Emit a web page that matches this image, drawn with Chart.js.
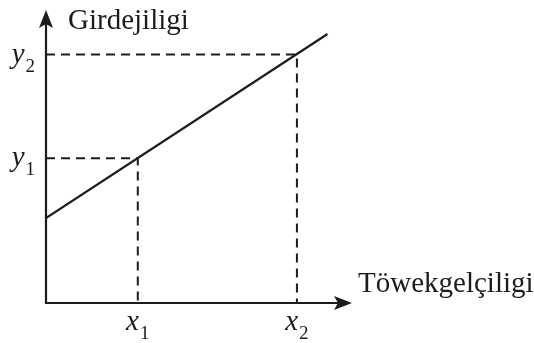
<!DOCTYPE html>
<html>
<head>
<meta charset="utf-8">
<script src="https://cdn.jsdelivr.net/npm/chart.js@4"></script>
<style>
  body { margin: 0; background: #fff; }
  #wrap { width: 534px; height: 343px; }
</style>
</head>
<body>
<div id="wrap"><canvas id="sketch"></canvas></div>
<script>
// straight line (start and end), in axis units 0..100
const lineX = [0, 92];
const lineY = [29, 91.8];

// the two marked points on the line
const guideX = [30, 82];
const guideY = [49.4, 84.8];

// tick labels: letter + subscript
const xTickText = ['x', 'x'];
const xTickSub = ['1', '2'];
const yTickText = ['y', 'y'];
const yTickSub = ['1', '2'];

const xTitle = 'Töwekgelçiligi';
const yTitle = 'Girdejiligi';

document.addEventListener('DOMContentLoaded', function () {
    const ink = '#1c1c1c';
    const serif = '"Liberation Serif", "Times New Roman", serif';

    function arrow(ctx, tx, ty, dx, dy) {
        // notched arrow head pointing along (dx, dy)
        const len = 18, half = 7, notch = 4;
        const px = -dy, py = dx;
        ctx.beginPath();
        ctx.moveTo(tx, ty);
        ctx.lineTo(tx - dx * len + px * half, ty - dy * len + py * half);
        ctx.lineTo(tx - dx * (len - notch), ty - dy * (len - notch));
        ctx.lineTo(tx - dx * len - px * half, ty - dy * len - py * half);
        ctx.closePath();
        ctx.fill();
    }

    function subLabel(ctx, letter, sub, x, y, align) {
        ctx.font = 'italic 29px ' + serif;
        const w1 = ctx.measureText(letter).width;
        ctx.font = '19px ' + serif;
        const w2 = ctx.measureText(sub).width;
        const total = w1 + w2 + 1;
        let left = x;
        if (align === 'center') left = x - total / 2;
        if (align === 'right') left = x - total;
        ctx.textAlign = 'left';
        ctx.textBaseline = 'alphabetic';
        ctx.font = 'italic 29px ' + serif;
        ctx.fillText(letter, left, y);
        ctx.font = '19px ' + serif;
        ctx.fillText(sub, left + w1 + 1, y + 9);
    }

    const axesPlugin = {
        id: 'arrowAxes',
        afterDatasetsDraw(chart) {
            const ctx = chart.ctx;
            const xs = chart.scales.x, ys = chart.scales.y;
            const x0 = xs.getPixelForValue(0), y0 = ys.getPixelForValue(0);
            const xEnd = xs.getPixelForValue(100), yEnd = ys.getPixelForValue(100);
            ctx.save();
            ctx.strokeStyle = ink;
            ctx.fillStyle = ink;
            ctx.lineWidth = 2.2;
            ctx.beginPath();
            ctx.moveTo(x0, y0);
            ctx.lineTo(x0, yEnd + 10);
            ctx.moveTo(x0 - 1, y0);
            ctx.lineTo(xEnd - 10, y0);
            ctx.stroke();
            arrow(ctx, x0, yEnd, 0, -1);
            arrow(ctx, xEnd, y0, 1, 0);

            // axis titles
            ctx.font = '29px ' + serif;
            ctx.textAlign = 'left';
            ctx.textBaseline = 'alphabetic';
            ctx.fillText(yTitle, x0 + 22, yEnd + 19);
            ctx.fillText(xTitle, xEnd + 6, y0 - 11);

            // tick labels
            guideX.forEach(function (v, i) {
                subLabel(ctx, xTickText[i], xTickSub[i], xs.getPixelForValue(v), y0 + 27, 'center');
            });
            guideY.forEach(function (v, i) {
                subLabel(ctx, yTickText[i], yTickSub[i], x0 - 11, ys.getPixelForValue(v) + 8, 'right');
            });
            ctx.restore();
        }
    };

    const datasets = [{
        data: lineX.map(function (x, i) { return { x: x, y: lineY[i] }; }),
        borderColor: ink,
        borderWidth: 2.2,
        pointRadius: 0,
        showLine: true
    }];
    guideX.forEach(function (gx, i) {
        datasets.push({
            data: [{ x: 0, y: guideY[i] }, { x: gx, y: guideY[i] }, { x: gx, y: 0 }],
            borderColor: ink,
            borderWidth: 2,
            borderDash: [9, 6],
            pointRadius: 0,
            showLine: true
        });
    });

    new Chart(document.getElementById('sketch').getContext('2d'), {
        type: 'scatter',
        data: { datasets: datasets },
        options: {
            responsive: true,
            maintainAspectRatio: false,
            animation: false,
            layout: { padding: { left: 46, right: 182, top: 10, bottom: 40 } },
            plugins: { legend: { display: false }, tooltip: { enabled: false } },
            scales: {
                x: { type: 'linear', min: 0, max: 100, display: false },
                y: { type: 'linear', min: 0, max: 100, display: false }
            }
        },
        plugins: [axesPlugin]
    });
});
</script>
</body>
</html>
